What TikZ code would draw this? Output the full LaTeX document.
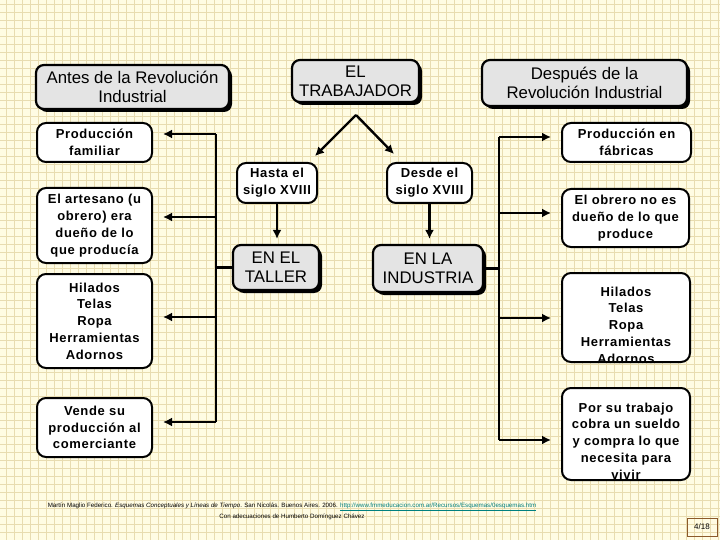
\documentclass[tikz,border=0pt]{standalone}
\usepackage{fontspec}
\setmainfont{Liberation Sans}
\newfontfamily\spacedfont[LetterSpace=5]{Liberation Sans}
\usepackage{xcolor}
\usetikzlibrary{arrows.meta, calc, shadows}
\definecolor{paper}{HTML}{FFFCE3}
\definecolor{gridtan}{HTML}{E8DCB0}
\definecolor{headgray}{HTML}{E4E4E4}
\definecolor{linkteal}{HTML}{008080}
\definecolor{pagebrown}{HTML}{8B5A2B}

\begin{document}
\begin{tikzpicture}[x=1pt, y=-1pt,
    gridstyle/.style={gridtan, line width=0.6pt},
    headstyle/.style={draw, line width=2.2pt, rounded corners=8pt, fill=headgray,
      align=center, inner sep=2pt, font=\fontsize{16.8}{19}\selectfont,
      drop shadow={shadow xshift=3pt, shadow yshift=-3pt, fill=black, opacity=1}},
    boxstyle/.style={draw, line width=2pt, rounded corners=9pt, fill=white,
      align=center, inner sep=2pt, font=\spacedfont\bfseries\fontsize{13}{16.8}\selectfont},
    boxtext/.style={align=center, inner sep=0pt, font=\spacedfont\bfseries\fontsize{13}{16.8}\selectfont},
    linestyle/.style={line width=2.4pt},
    arrowstyle/.style={line width=2.4pt, -{Latex[length=9pt, width=9pt]}},
    footstyle/.style={font=\fontsize{6.2}{8}\selectfont, inner sep=0pt}]
  \useasboundingbox (0,0) rectangle (720,540);
  % paper with grid
  \fill[paper] (0,0) rectangle (720,540);
  \foreach \gx in {6,14,...,718} \draw[gridstyle] (\gx,0) -- (\gx,540);
  \foreach \gy in {4,12,...,540} \draw[gridstyle] (0,\gy) -- (720,\gy);
  % headings
  \node[headstyle, minimum width=193, minimum height=44] (antes) at (132.5,87) {Antes de la Revolución\\Industrial};
  \node[headstyle, minimum width=127, minimum height=42] (trab) at (355.5,81) {EL\\TRABAJADOR};
  \node[headstyle, minimum width=205, minimum height=46] (despues) at (584.5,83) {Después de la\\Revolución Industrial};
  % middle column
  \node[boxstyle, minimum width=80, minimum height=40] (hasta) at (277,183) {Hasta el\\siglo XVIII};
  \node[boxstyle, minimum width=85, minimum height=40] (desde) at (429.5,183) {Desde el\\siglo XVIII};
  \node[headstyle, minimum width=86, minimum height=45] (taller) at (276,267.5) {EN EL\\TALLER};
  \node[headstyle, minimum width=110, minimum height=47] (indus) at (428,268.5) {EN LA\\INDUSTRIA};
  % left column
  \node[boxstyle, minimum width=115, minimum height=39] (pfam) at (94.5,142.5) {Producción\\familiar};
  \node[boxstyle, minimum width=115, minimum height=75] (artes) at (94.5,225.5) {El artesano (u\\obrero) era\\dueño de lo\\que producía};
  \node[boxstyle, minimum width=115, minimum height=94] (hilI) at (94.5,321) {Hilados\\Telas\\Ropa\\Herramientas\\Adornos};
  \node[boxstyle, minimum width=115, minimum height=59] (vende) at (94.5,427.5) {Vende su\\producción al\\comerciante};
  % right column
  \node[boxstyle, minimum width=129, minimum height=39] (pfab) at (626.5,142.5) {Producción en\\fábricas};
  \node[boxstyle, minimum width=127, minimum height=58] (obrero) at (625.5,218) {El obrero no es\\dueño de lo que\\produce};
  \node[boxstyle, minimum width=128, minimum height=89] (hilD) at (626,317.5) {};
  \node[boxtext] (hilDtext) at (626,325) {Hilados\\Telas\\Ropa\\Herramientas\\Adornos};
  \node[boxstyle, minimum width=128, minimum height=92] (porsu) at (626,434) {};
  \node[boxtext] (porsutext) at (626,441) {Por su trabajo\\cobra un sueldo\\y compra lo que\\necesita para\\vivir};
  % fork under the worker
  \coordinate (fork) at (356,115);
  \draw[arrowstyle] (fork) -- ($(hasta.north east)+(-3,-6)$);
  \draw[arrowstyle] (fork) -- ($(desde.north west)+(8,-8)$);
  \draw[arrowstyle, shorten >=5pt] (hasta.south) -- (hasta.south |- taller.north);
  \draw[arrowstyle, shorten >=5pt] (desde.south) -- (desde.south |- indus.north);
  % left branch
  \coordinate (lv1) at (216,134);
  \coordinate (lv2) at (216,217);
  \coordinate (lv3) at (216,317);
  \coordinate (lv4) at (216,422);
  \draw[linestyle] (lv1) -- (lv4);
  \draw[linestyle] (taller.west) -- (taller.west -| lv1);
  \draw[arrowstyle, shorten >=10pt] (lv1) -- (lv1 -| pfam.east);
  \draw[arrowstyle, shorten >=10pt] (lv2) -- (lv2 -| artes.east);
  \draw[arrowstyle, shorten >=10pt] (lv3) -- (lv3 -| hilI.east);
  \draw[arrowstyle, shorten >=10pt] (lv4) -- (lv4 -| vende.east);
  % right branch
  \coordinate (rv1) at (499,137);
  \coordinate (rv2) at (499,213);
  \coordinate (rv3) at (499,318);
  \coordinate (rv4) at (499,440);
  \draw[linestyle] (rv1) -- (rv4);
  \draw[linestyle] (indus.east) -- (indus.east -| rv1);
  \draw[arrowstyle, shorten >=10pt] (rv1) -- (rv1 -| pfab.west);
  \draw[arrowstyle, shorten >=10pt] (rv2) -- (rv2 -| obrero.west);
  \draw[arrowstyle, shorten >=10pt] (rv3) -- (rv3 -| hilD.west);
  \draw[arrowstyle, shorten >=10pt] (rv4) -- (rv4 -| porsu.west);
  % source
  \node[footstyle] (cite) at (292,507) {Martín Maglio Federico. \textit{Esquemas Conceptuales y Líneas de Tiempo}. San Nicolás. Buenos Aires. 2006. \textcolor{linkteal}{\underline{http://www.fmmeducacion.com.ar/Recursos/Esquemas/0esquemas.htm}}};
  \node[footstyle] (adapt) at (292,517) {Con adecuaciones de Humberto Domínguez Chávez};
  \node[draw=pagebrown, line width=1pt, minimum width=30, minimum height=18, inner sep=0pt,
    font=\fontsize{8}{9}\selectfont] (page) at (702,527) {4/18};
\end{tikzpicture}
\end{document}
